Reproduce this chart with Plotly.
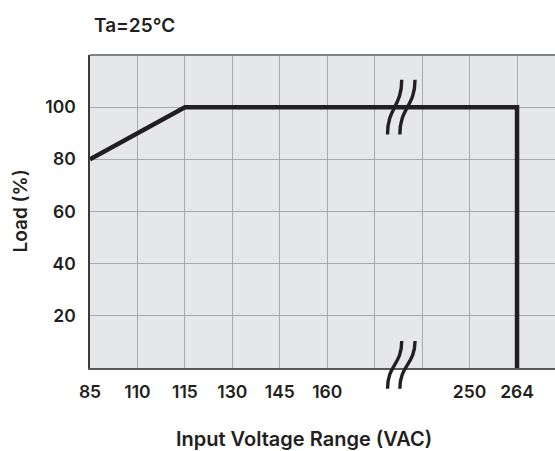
import plotly.graph_objects as go

# ---- data ----
tick_labels = ["85", "110", "115", "130", "145", "160", "", "", "250", "264"]
voltage = [85, 115, 264, 264]
load = [80, 100, 100, 0]
load_ticks = [20, 40, 60, 80, 100]

# map voltages onto the (broken) category positions
pos = {int(t): i for i, t in enumerate(tick_labels) if t}
xs = [pos[v] for v in voltage]

FAMILY = "Inter, Liberation Sans, Arial, sans-serif"
INK = "#231f20"
TICK_FONT = dict(family=FAMILY, size=17.5, color=INK, weight=600)
TITLE_FONT = dict(family=FAMILY, size=19, color=INK, weight=600)
XTITLE_FONT = dict(family=FAMILY, size=20, color=INK, weight=600)
Y_MAX = 120

fig = go.Figure()
fig.add_trace(go.Scatter(
    x=xs, y=load, mode="lines",
    line=dict(color=INK, width=4.5),
    hoverinfo="skip", showlegend=False,
))

# break marks ("//") between 160 and 250
def s_curve(xt, yt, xb, yb):
    ym = (yt + yb) / 2
    return f"M {xt},{yt} C {xt},{ym} {xb},{ym} {xb},{yb}"

shapes = []
top_t, top_b = 110.5 / Y_MAX, 89.5 / Y_MAX
bot_t, bot_b = 0.086, -0.066
for xt, xb in [(6.57, 6.27), (6.85, 6.53)]:
    shapes.append(dict(type="path", xref="x", yref="paper",
                       path=s_curve(xt, top_t, xb, top_b),
                       line=dict(color=INK, width=3.4)))
    shapes.append(dict(type="path", xref="x", yref="paper",
                       path=s_curve(xt, bot_t, xb, bot_b),
                       line=dict(color=INK, width=3.4)))
# top frame line
shapes.append(dict(type="line", xref="paper", yref="paper", x0=0, x1=1, y0=1, y1=1,
                   line=dict(color="#808285", width=2)))

fig.update_layout(
    width=555, height=451,
    margin=dict(l=90, r=0, t=55, b=83),
    paper_bgcolor="white", plot_bgcolor="#e6e7e8",
    font=TICK_FONT,
    shapes=shapes,
    annotations=[
        dict(text="Ta=25℃", xref="paper", yref="paper", x=0.004, y=1.093,
             xanchor="left", yanchor="middle", showarrow=False, font=TITLE_FONT),
        dict(text="Input Voltage Range (VAC)", xref="paper", yref="paper", x=0.461, y=-0.2268,
             xanchor="center", yanchor="middle", showarrow=False, font=XTITLE_FONT),
        dict(text="Load (%)", xref="paper", yref="paper", x=-0.1505, y=0.5, textangle=-90,
             xanchor="center", yanchor="middle", showarrow=False, font=TITLE_FONT),
    ],
)
fig.update_xaxes(
    range=[0, 9.80], tickmode="array",
    tickvals=list(range(len(tick_labels))), ticktext=tick_labels,
    showgrid=True, gridcolor="#a7a9ac", gridwidth=1,
    showline=True, linecolor="#58595b", linewidth=2,
    ticks="outside", ticklen=7, tickcolor="rgba(0,0,0,0)",
    zeroline=False, tickfont=TICK_FONT,
)
fig.update_yaxes(
    range=[0, Y_MAX], tickmode="array", tickvals=load_ticks,
    showgrid=True, gridcolor="#a7a9ac", gridwidth=1,
    showline=True, linecolor="#3a3a3a", linewidth=1.5,
    ticks="outside", ticklen=9, tickcolor="rgba(0,0,0,0)",
    zeroline=False, tickfont=TICK_FONT,
)

fig.write_html("out.html", config={"displayModeBar": False},
               post_script="document.body.style.margin='0';")
